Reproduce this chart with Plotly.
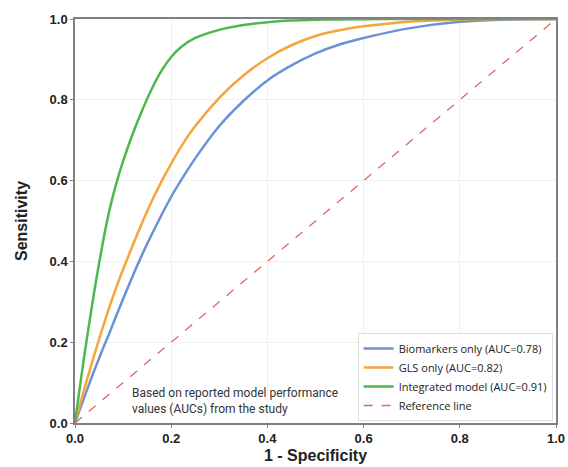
import plotly.graph_objects as go

fpr = [0, 0.01, 0.02, 0.03, 0.04, 0.05, 0.06, 0.07, 0.08, 0.09, 0.1,
       0.12, 0.14, 0.16, 0.18, 0.2, 0.22, 0.25, 0.3, 0.35, 0.4,
       0.45, 0.5, 0.55, 0.6, 0.7, 0.8, 0.9, 1.0]
tpr_biomarkers = [0, 0.033, 0.066, 0.098, 0.13, 0.16, 0.19, 0.218, 0.248, 0.278, 0.307,
                  0.364, 0.418, 0.468, 0.515, 0.56, 0.6, 0.655, 0.735, 0.797, 0.848,
                  0.885, 0.915, 0.937, 0.953, 0.978, 0.993, 0.999, 1.0]
tpr_gls = [0, 0.044, 0.087, 0.128, 0.168, 0.207, 0.245, 0.282, 0.316, 0.349, 0.38,
           0.44, 0.497, 0.55, 0.598, 0.642, 0.683, 0.735, 0.805, 0.86, 0.903,
           0.935, 0.958, 0.972, 0.982, 0.994, 0.999, 1.0, 1.0]
tpr_integrated = [0, 0.088, 0.172, 0.25, 0.325, 0.395, 0.46, 0.518, 0.567, 0.61, 0.648,
                  0.716, 0.775, 0.828, 0.872, 0.906, 0.93, 0.953, 0.973, 0.985, 0.992,
                  0.996, 0.998, 0.999, 0.9995, 1.0, 1.0, 1.0, 1.0]
ref_x = [0, 1]
ref_y = [0, 1]
names = ["Biomarkers only (AUC=0.78)", "GLS only (AUC=0.82)", "Integrated model (AUC=0.91)", "Reference line"]
colors = ["#6b92d6", "#f5a53a", "#4cb84f", "#e06666"]
tick_vals = [0, 0.2, 0.4, 0.6, 0.8, 1.0]
tick_text = ["0.0", "0.2", "0.4", "0.6", "0.8", "1.0"]

fig = go.Figure()
for ys, nm, c in zip([tpr_biomarkers, tpr_gls, tpr_integrated], names[:3], colors[:3]):
    fig.add_trace(go.Scatter(x=fpr, y=ys, mode="lines", name=nm,
                             line=dict(color=c, width=2.5, shape="spline", smoothing=0.6)))
fig.add_trace(go.Scatter(x=ref_x, y=ref_y, mode="lines", name=names[3],
                         line=dict(color=colors[3], width=1.3, dash="dash")))

axis_common = dict(range=[0, 1], tickvals=tick_vals,
                   ticktext=["<b>%s</b>" % t for t in tick_text],
                   showgrid=True, gridcolor="#f0f0f0", gridwidth=1,
                   showline=True, linecolor="#808080", linewidth=1.5, mirror=True,
                   ticks="outside", ticklen=3, tickcolor="#808080", zeroline=False,
                   automargin=False,
                   tickfont=dict(family="Liberation Sans", size=13, color="#222"))
fig.update_xaxes(**axis_common,
                 title=dict(text="<b>1 - Specificity</b>", font=dict(family="Liberation Sans", size=16, color="#222"), standoff=4))
fig.update_yaxes(**axis_common,
                 title=dict(text="<b>Sensitivity</b>", font=dict(family="Liberation Sans", size=16, color="#222"), standoff=18))

fig.add_annotation(x=0.114, y=0.097, xref="x", yref="y", xanchor="left", yanchor="top",
                   text="Based on reported model performance<br>values (AUCs) from the study",
                   showarrow=False, align="left",
                   font=dict(family="Roboto", size=12, color="#333"))

fig.update_layout(
    width=568, height=467,
    margin=dict(l=75, r=12, t=19, b=44),
    paper_bgcolor="white", plot_bgcolor="white",
    showlegend=True,
    legend=dict(x=0.993, y=0.005, xanchor="right", yanchor="bottom",
                bgcolor="rgba(255,255,255,0.9)", bordercolor="#dddddd", borderwidth=1,
                font=dict(family="Open Sans", size=11, color="#222"),
                tracegroupgap=0, itemwidth=30),
)
fig.write_html("out.html", config={"displayModeBar": False},
               post_script="document.body.style.margin='0';document.body.style.overflow='hidden';")
